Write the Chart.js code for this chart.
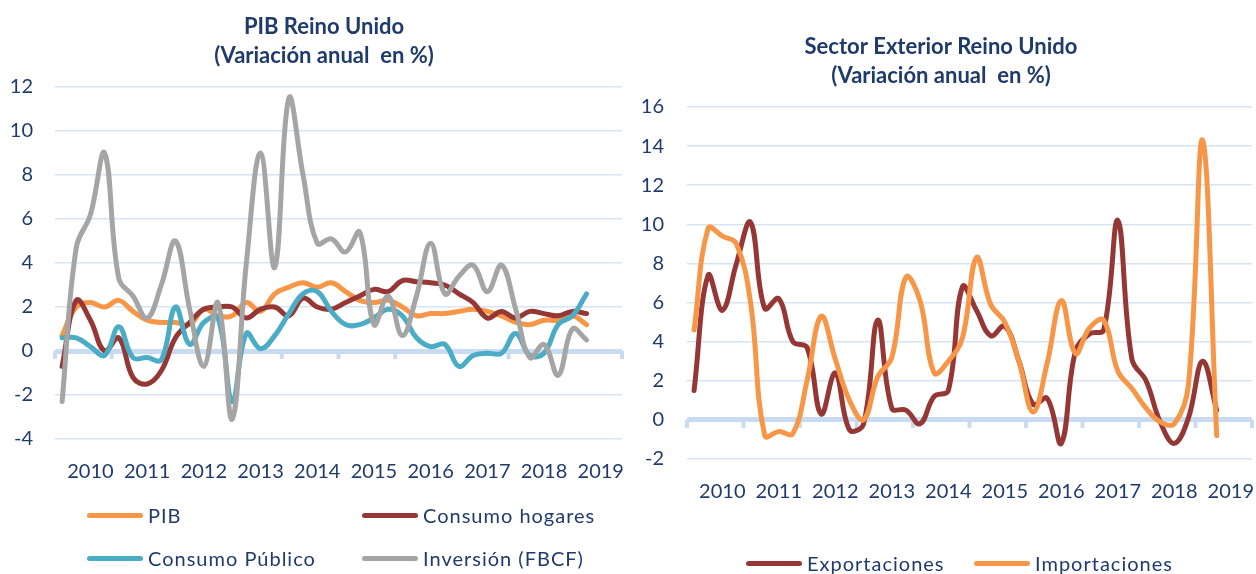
<!DOCTYPE html>
<html>
<head>
<meta charset="utf-8">
<script src="https://cdn.jsdelivr.net/npm/chart.js@4.4.1/dist/chart.umd.min.js"></script>
<style>
  body { margin: 0; width: 1256px; height: 574px; background: #fff; position: relative; overflow: hidden; font-family: Lato, sans-serif; }
  .wrap { position: absolute; top: 0; height: 574px; }
  #leftWrap { left: 0; width: 640px; }
  #rightWrap { left: 630px; width: 626px; }
  .item { position: absolute; display: flex; align-items: center; height: 26px; white-space: nowrap; color: #1F3B6B; font-size: 20px; letter-spacing: 1px; }
  .swatch { display: inline-block; width: 56px; height: 5px; border-radius: 3px; margin-right: 5px; }
</style>
</head>
<body>
<div class="wrap" id="leftWrap"><canvas id="pibChart"></canvas></div>
<div class="wrap" id="rightWrap"><canvas id="extChart"></canvas></div>
<div id="legends"></div>

<script>
// Quarterly series, 2010 T1 .. 2019 T2
const years = ['2010', '2011', '2012', '2013', '2014', '2015', '2016', '2017', '2018', '2019'];

const pib = [0.7, 2.0, 2.2, 2.0, 2.3, 1.8, 1.4, 1.3, 1.3, 1.2, 1.9, 1.6, 1.6, 2.2, 1.8, 2.6, 2.9, 3.1, 2.9, 3.1,
             2.7, 2.3, 2.2, 2.3, 2.0, 1.6, 1.7, 1.7, 1.8, 1.9, 1.8, 1.6, 1.3, 1.2, 1.4, 1.4, 1.6, 1.2];
const consumoHogares = [-0.7, 2.3, 1.4, 0.0, 0.6, -1.2, -1.5, -0.9, 0.6, 1.3, 1.9, 2.0, 2.0, 1.5, 1.9, 2.0, 1.6, 2.4, 2.0, 1.9,
             2.2, 2.5, 2.8, 2.7, 3.2, 3.15, 3.1, 3.0, 2.6, 2.2, 1.5, 1.8, 1.5, 1.8, 1.7, 1.6, 1.8, 1.7];
const consumoPublico = [0.6, 0.6, 0.2, -0.2, 1.1, -0.3, -0.3, -0.4, 2.0, 0.3, 1.3, 1.5, -2.3, 0.8, 0.1, 0.7, 1.7, 2.6, 2.7, 1.8,
             1.2, 1.2, 1.5, 1.9, 1.6, 0.6, 0.2, 0.3, -0.7, -0.2, -0.1, -0.1, 0.8, -0.2, -0.1, 1.2, 1.6, 2.6];
const inversion = [-2.3, 4.7, 6.2, 9.0, 3.3, 2.5, 1.5, 3.0, 5.0, 1.9, -0.7, 2.2, -3.1, 4.0, 9.0, 3.8, 11.5, 8.0, 4.9, 5.1,
             4.5, 5.4, 1.2, 2.5, 0.7, 2.5, 4.9, 2.6, 3.4, 3.9, 2.7, 3.9, 1.9, -0.3, 0.3, -1.1, 1.0, 0.5];

const exportaciones = [1.5, 7.4, 5.6, 8.0, 10.1, 5.7, 6.2, 4.0, 3.7, 0.3, 2.4, -0.5, -0.2, 5.1, 0.6, 0.5, -0.2, 1.2, 1.5, 6.8,
             5.6, 4.3, 4.8, 3.0, 0.8, 1.1, -1.2, 3.5, 4.4, 4.6, 10.2, 3.1, 2.0, -0.1, -1.2, 0.1, 3.0, 0.5];
const importaciones = [4.6, 9.8, 9.4, 9.0, 6.0, -0.8, -0.6, -0.7, 2.0, 5.3, 3.1, 1.0, 0.0, 2.2, 3.2, 7.3, 6.1, 2.4, 3.0, 4.2,
             8.3, 5.9, 5.0, 3.0, 0.4, 2.9, 6.1, 3.4, 4.7, 5.1, 2.5, 1.6, 0.6, -0.1, -0.2, 1.8, 14.3, -0.8];

const navy = '#1F3B6B';
const gridBlue = '#D7E4F4';
const axisBlue = '#C9DBF1';
const font = { family: 'Lato, sans-serif', size: 20 };

const toPoints = arr => arr.map((v, i) => ({ x: i, y: v }));

function series(label, values, color, order) {
  return {
    label, data: toPoints(values), borderColor: color, backgroundColor: color,
    borderWidth: 5, pointRadius: 0, tension: 0.4, order,
    borderCapStyle: 'round', borderJoinStyle: 'round'
  };
}

// small tick marks hanging under the zero line, one per year boundary
const zeroTicks = {
  id: 'zeroTicks',
  beforeDatasetsDraw(chart) {
    const { ctx, scales: { x, y } } = chart;
    const y0 = y.getPixelForValue(0);
    ctx.save();
    ctx.strokeStyle = axisBlue;
    ctx.lineWidth = 4;
    for (let k = 0; k <= years.length; k++) {
      const px = x.getPixelForValue(-0.5 + 4 * k);
      ctx.beginPath();
      ctx.moveTo(px, y0);
      ctx.lineTo(px, y0 + 8);
      ctx.stroke();
    }
    ctx.restore();
  }
};

function makeOptions(cfg) {
  return {
    responsive: false,
    animation: false,
    layout: { padding: cfg.padding },
    plugins: {
      legend: { display: false },
      tooltip: { enabled: false },
      title: {
        display: true,
        text: cfg.title,
        color: navy,
        font: { family: 'Lato, sans-serif', size: 22, weight: 'bold', lineHeight: 28.5 / 22 },
        padding: cfg.titlePadding
      }
    },
    scales: {
      x: {
        type: 'linear', min: -0.5, max: 39.5,
        afterBuildTicks: axis => { axis.ticks = years.map((_, k) => ({ value: 2 + 4 * k })); },
        afterFit: axis => {
          axis.height = 45;
          // year labels may hang past the plot edge without shrinking it
          axis.paddingLeft = 0;
          axis.paddingRight = 0;
        },
        grid: { display: false },
        border: { display: false },
        ticks: { autoSkip: false, maxRotation: 0, padding: 13, color: navy, font, callback: (v, i) => years[i] }
      },
      y: {
        min: cfg.yMin, max: cfg.yMax,
        afterFit: axis => { axis.width = cfg.yWidth; },
        border: { display: false },
        grid: {
          drawTicks: false,
          color: c => c.tick.value === 0 ? axisBlue : gridBlue,
          lineWidth: c => c.tick.value === 0 ? 5 : 1.5
        },
        ticks: { stepSize: 2, padding: cfg.yPad, color: navy, font }
      },
      // empty spacer on the right, keeps the title centred over the panel
      y2: {
        position: 'right', display: cfg.spacer > 0,
        afterFit: axis => { axis.width = cfg.spacer; },
        grid: { display: false }, border: { display: false }, ticks: { display: false }
      }
    }
  };
}

const leftCanvas = document.getElementById('pibChart');
leftCanvas.width = 640; leftCanvas.height = 574;
const pibChart = new Chart(leftCanvas, {
  type: 'line',
  data: {
    datasets: [
      series('PIB', pib, '#F79646', 4),
      series('Consumo hogares', consumoHogares, '#953735', 3),
      series('Consumo Público', consumoPublico, '#4BACC6', 2),
      series('Inversión (FBCF)', inversion, '#A5A5A5', 1)
    ]
  },
  options: makeOptions({
    title: ['PIB Reino Unido', '(Variación anual  en %)'],
    titlePadding: { top: 13, bottom: 17 },
    padding: { left: 8, right: 0, top: 0, bottom: 90 },
    yMin: -4, yMax: 12, yWidth: 47, yPad: 22, spacer: 18
  }),
  plugins: [zeroTicks]
});

const rightCanvas = document.getElementById('extChart');
rightCanvas.width = 626; rightCanvas.height = 574;
const extChart = new Chart(rightCanvas, {
  type: 'line',
  data: {
    datasets: [
      series('Exportaciones', exportaciones, '#953735', 2),
      series('Importaciones', importaciones, '#F79646', 1)
    ]
  },
  options: makeOptions({
    title: ['Sector Exterior Reino Unido', '(Variación anual  en %)'],
    titlePadding: { top: 33, bottom: 17 },
    padding: { left: 0, right: 4, top: 0, bottom: 70 },
    yMin: -2, yMax: 16, yWidth: 57, yPad: 23, spacer: 0
  }),
  plugins: [zeroTicks]
});

// legends built from the chart datasets; each entry is [left, top] of the item
function buildLegend(chart, slots) {
  const holder = document.getElementById('legends');
  chart.data.datasets.forEach((ds, i) => {
    const item = document.createElement('div');
    item.className = 'item';
    item.style.left = slots[i][0] + 'px';
    item.style.top = slots[i][1] + 'px';
    const sw = document.createElement('span');
    sw.className = 'swatch';
    sw.style.background = ds.borderColor;
    item.appendChild(sw);
    item.appendChild(document.createTextNode(ds.label));
    holder.appendChild(item);
  });
}
buildLegend(pibChart, [[87, 502], [362, 502], [87, 545], [362, 545]]);
buildLegend(extChart, [[746, 550], [974, 550]]);
</script>
</body>
</html>
